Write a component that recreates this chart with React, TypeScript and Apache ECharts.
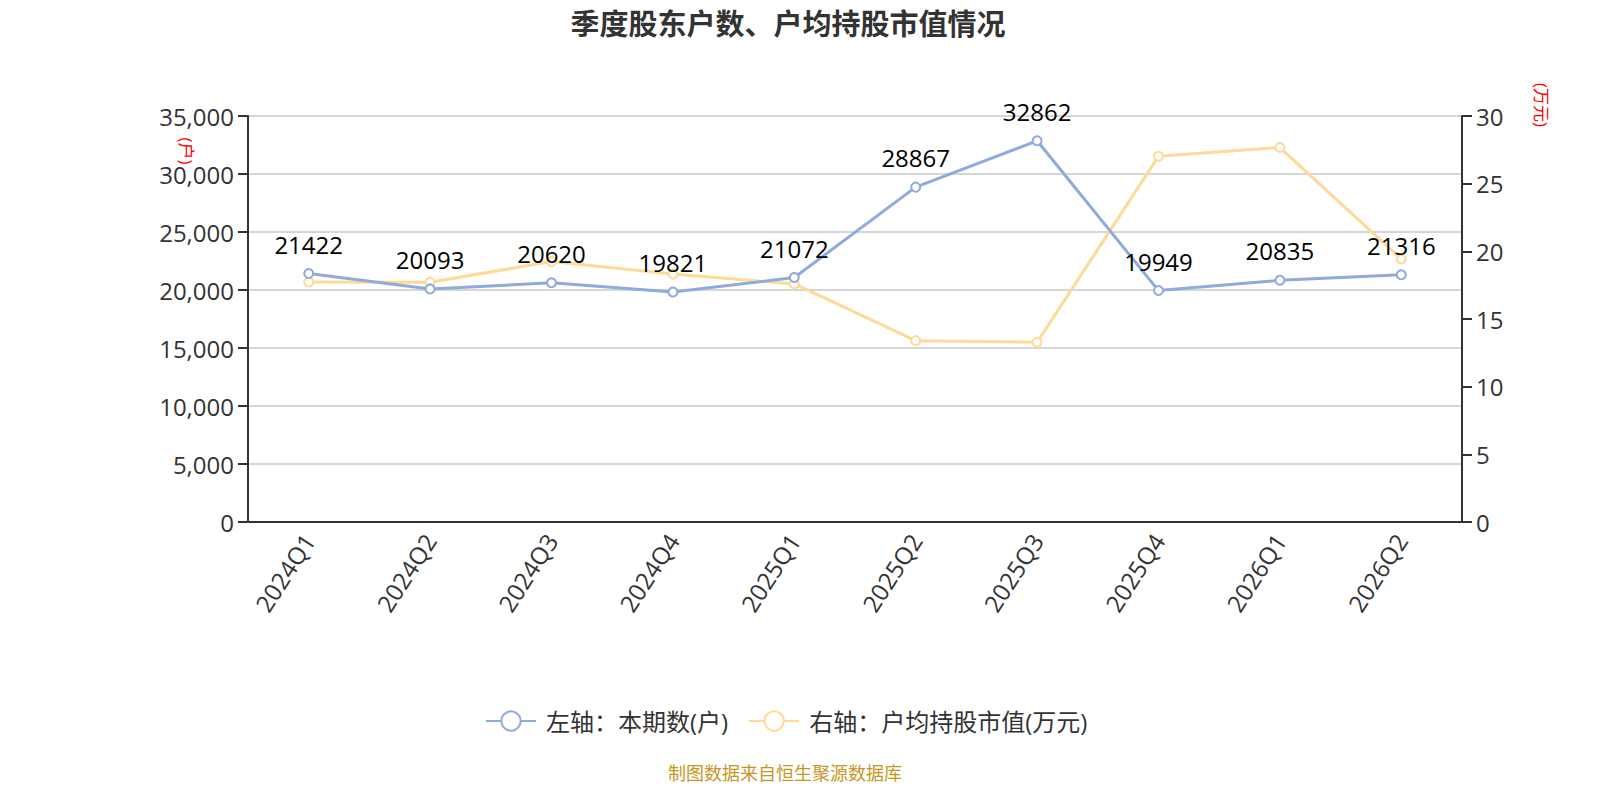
import React, { useEffect, useRef } from "react";
import * as echarts from "echarts";

const categories = ["2024Q1", "2024Q2", "2024Q3", "2024Q4", "2025Q1", "2025Q2", "2025Q3", "2025Q4", "2026Q1", "2026Q2"];
const holders = [21422, 20093, 20620, 19821, 21072, 28867, 32862, 19949, 20835, 21316];
const avgValue = [17.73, 17.71, 19.25, 18.33, 17.59, 13.4, 13.28, 27.02, 27.67, 19.43];
const leftName = "(户)";
const rightName = "(万元)";
const title = "季度股东户数、户均持股市值情况";
const footer = "制图数据来自恒生聚源数据库";
const legendNames = ["左轴：本期数(户)", "右轴：户均持股市值(万元)"];

const FONT = "'Open Sans', 'Noto Sans CJK SC', 'Noto Sans', sans-serif";

export default function App() {
  const ref = useRef<HTMLDivElement>(null);
  useEffect(() => {
    document.body.style.margin = "0";
    const chart = echarts.init(ref.current!, undefined, { renderer: "svg" });
    chart.setOption({
      animation: false,
      textStyle: { fontFamily: FONT },
      title: {
        text: title,
        left: 783,
        textAlign: "center",
        top: 4,
        textStyle: { fontSize: 29, fontWeight: "bold", color: "#333", fontFamily: FONT },
      },
      legend: {
        top: 704,
        left: 480,
        itemWidth: 50,
        itemHeight: 24,
        itemGap: 20,
        textStyle: { fontSize: 24, color: "#333", fontFamily: FONT, padding: [0, 0, 0, 5] },
        data: legendNames,
      },
      grid: { left: 248, right: 138, top: 116, bottom: 278, containLabel: false },
      xAxis: {
        type: "category",
        data: categories,
        boundaryGap: true,
        axisLine: { lineStyle: { color: "#333", width: 2 } },
        axisTick: { lineStyle: { color: "#333", width: 2 }, length: 10 },
        axisLabel: { rotate: 57, fontSize: 24, color: "#333", margin: 14 },
      },
      yAxis: [
        {
          type: "value",
          min: 0,
          max: 35000,
          interval: 5000,
          axisLine: { show: true, lineStyle: { color: "#333", width: 2 } },
          axisTick: { show: true, lineStyle: { color: "#333", width: 2 }, length: 10 },
          axisLabel: { fontSize: 24, color: "#333", margin: 14, formatter: (v: number) => v.toLocaleString("en-US") },
          splitLine: { lineStyle: { color: "#c8c8c8", width: 1.5 } },
        },
        {
          type: "value",
          min: 0,
          max: 30,
          interval: 5,
          position: "right",
          axisLine: { show: true, lineStyle: { color: "#333", width: 2 } },
          axisTick: { show: true, lineStyle: { color: "#333", width: 2 }, length: 10 },
          axisLabel: { fontSize: 24, color: "#333", margin: 14 },
          splitLine: { show: false },
        },
      ],
      series: [
        {
          name: legendNames[0],
          type: "line",
          yAxisIndex: 0,
          data: holders,
          symbol: "emptyCircle",
          symbolSize: 9,
          lineStyle: { color: "#8faadc", width: 3 },
          itemStyle: { color: "#8faadc", borderWidth: 2 },
          label: { show: true, position: "top", fontSize: 24, color: "#000", distance: 12, fontFamily: FONT },
          z: 3,
        },
        {
          name: legendNames[1],
          type: "line",
          yAxisIndex: 1,
          data: avgValue,
          symbol: "emptyCircle",
          symbolSize: 9,
          lineStyle: { color: "#ffd996", width: 3 },
          itemStyle: { color: "#ffd996", borderWidth: 2 },
          label: { show: false },
          z: 2,
        },
      ],
      graphic: [
        {
          type: "text",
          x: 186,
          y: 151,
          rotation: -Math.PI / 2,
          style: { text: leftName, fill: "#ff0000", fontSize: 17, fontFamily: FONT, align: "center", verticalAlign: "middle" },
        },
        {
          type: "text",
          x: 1541,
          y: 105,
          rotation: -Math.PI / 2,
          style: { text: rightName, fill: "#ff0000", fontSize: 17, fontFamily: FONT, align: "center", verticalAlign: "middle" },
        },
        {
          type: "text",
          x: 785,
          y: 773,
          style: { text: footer, fill: "#c8961e", fontSize: 18, fontFamily: FONT, align: "center", verticalAlign: "middle" },
        },
      ],
    });
    return () => chart.dispose();
  }, []);
  return <div ref={ref} style={{ width: 1600, height: 800 }} />;
}
